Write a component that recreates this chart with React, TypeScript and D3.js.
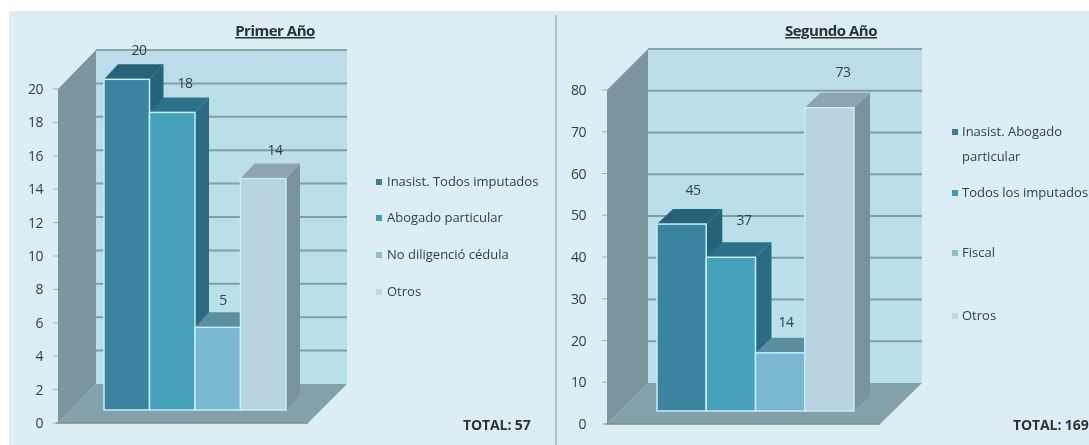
import React from "react";
import * as d3 from "d3";

const primerCategories = ["Inasist. Todos imputados", "Abogado particular", "No diligenció cédula", "Otros"];
const primerValues = [20, 18, 5, 14];
const primerTicks = [0, 2, 4, 6, 8, 10, 12, 14, 16, 18, 20];
const segundoCategories = ["Inasist. Abogado particular", "Todos los imputados", "Fiscal", "Otros"];
const segundoValues = [45, 37, 14, 73];
const segundoTicks = [0, 10, 20, 30, 40, 50, 60, 70, 80];

const faceColors = ["#3a84a0", "#45a0bc", "#79b8d0", "#b9d3e0"];
const topColors = ["#28637a", "#2c7189", "#5b8e9f", "#8ea4b2"];
const sideColors = ["#28637a", "#2c6a82", "#4f8495", "#7a929b"];
const markerColors = ["#3a7f90", "#3a9cb2", "#8fbdc6", "#c3d8de"];
const textColor = "#333f47";
const FONT = "'Open Sans', sans-serif";

type Panel = {
  id: string; title: string; titleX: number; titleY: number; cats: string[]; values: number[]; ticks: number[];
  x0: number; x1: number; floorRight: number; yTop: number; yBottom: number; dx: number; dy: number;
  barX0: number; barX1: number; barLift: number; barScale: number; barDx: number; barDy: number; tickTextX: number;
  labels: { x: number; y: number }[];
  legendMarkerX: number; legendTextX: number; legend: { lines: string[]; y: number }[];
  totalText: string; totalX: number;
};

const panels: Panel[] = [
  {
    id: "a", title: "Primer Año", titleX: 275, titleY: 36, cats: primerCategories, values: primerValues, ticks: primerTicks,
    x0: 58, x1: 347, floorRight: 308, yTop: 89, yBottom: 423, dx: 38, dy: 39,
    barX0: 104, barX1: 286, barLift: 13, barScale: 0.99, barDx: 14, barDy: 15, tickTextX: 43,
    labels: [{ x: 139, y: 55 }, { x: 185, y: 88 }, { x: 223, y: 305 }, { x: 275, y: 155 }],
    legendMarkerX: 376, legendTextX: 387,
    legend: [
      { lines: ["Inasist. Todos imputados"], y: 182 },
      { lines: ["Abogado particular"], y: 218 },
      { lines: ["No diligenció cédula"], y: 255 },
      { lines: ["Otros"], y: 292 },
    ],
    totalText: "TOTAL: 57", totalX: 463,
  },
  {
    id: "b", title: "Segundo Año", titleX: 831, titleY: 36, cats: segundoCategories, values: segundoValues, ticks: segundoTicks,
    x0: 607, x1: 922, floorRight: 880, yTop: 90, yBottom: 424, dx: 41, dy: 41,
    barX0: 657, barX1: 854, barLift: 13, barScale: 0.995, barDx: 16, barDy: 15, tickTextX: 586,
    labels: [{ x: 693, y: 195 }, { x: 744, y: 225 }, { x: 786, y: 327 }, { x: 843, y: 77 }],
    legendMarkerX: 952, legendTextX: 962,
    legend: [
      { lines: ["Inasist. Abogado", "particular"], y: 132 },
      { lines: ["Todos los imputados"], y: 193 },
      { lines: ["Fiscal"], y: 253 },
      { lines: ["Otros"], y: 316 },
    ],
    totalText: "TOTAL: 169", totalX: 1013,
  },
];

const poly = (pts: [number, number][]) => (d3.line()(pts) as string) + "Z";

function Chart({ p }: { p: Panel }) {
  const maxV = p.ticks[p.ticks.length - 1];
  const y = d3.scaleLinear().domain([0, maxV]).range([p.yBottom, p.yTop]);
  const yBar = d3.scaleLinear().domain([0, maxV]).range([
    p.yBottom - p.barLift,
    p.yBottom - p.barLift - (p.yBottom - p.yTop) * p.barScale,
  ]);
  const x = d3.scaleBand().domain(p.cats).range([p.barX0, p.barX1]).padding(0);
  const xb = p.x0 + p.dx;
  const gridTicks = p.ticks.slice(1, -1);
  const gradId = `wall-${p.id}`;
  return (
    <g>
      <defs>
        <linearGradient id={gradId} x1="0" y1="0" x2="0" y2="1">
          <stop offset="0" stopColor="#bcdde8" />
          <stop offset="1" stopColor="#b9e1e9" />
        </linearGradient>
      </defs>
      <g filter="url(#soft)">
        <rect x={xb} y={y(maxV) - p.dy} width={p.x1 - xb} height={p.yBottom - p.yTop} fill={`url(#${gradId})`} />
        <line x1={xb} x2={p.x1} y1={y(maxV) - p.dy} y2={y(maxV) - p.dy} stroke="#86a3ad" strokeWidth={2.2} />
        {gridTicks.map((t) => (
          <line key={t} x1={xb} x2={p.x1} y1={y(t) - p.dy} y2={y(t) - p.dy} stroke="#7f9eaa" strokeWidth={2} />
        ))}
        <path d={poly([[p.x0, y(maxV)], [xb, y(maxV) - p.dy], [xb, y(0) - p.dy], [p.x0, y(0)]])} fill="#7b959e" />
        <path d={poly([[p.x0, y(0)], [xb, y(0) - p.dy], [p.x1, y(0) - p.dy], [p.floorRight, y(0)]])} fill="#82a1aa" />
        <line x1={p.x0 - 2} x2={p.floorRight} y1={y(0)} y2={y(0)} stroke="#6f8e98" strokeWidth={1.5} />
        {p.ticks.map((t) => (
          <line key={t} x1={p.x0 - 5} x2={p.x0} y1={y(t)} y2={y(t)} stroke="#9ab0b8" strokeWidth={1} />
        ))}
        {p.cats.map((c, i) => {
          const v = p.values[i];
          const x0 = x(c) as number;
          const x1 = x0 + x.bandwidth();
          const yT = yBar(v);
          const yB = yBar(0);
          return (
            <g key={c}>
              <path d={poly([[x1, yT], [x1 + p.barDx, yT - p.barDy], [x1 + p.barDx, yB - p.barDy], [x1, yB]])} fill={sideColors[i]} />
              <path d={poly([[x0, yT], [x0 + p.barDx, yT - p.barDy], [x1 + p.barDx, yT - p.barDy], [x1, yT]])} fill={topColors[i]} />
              <rect x={x0} y={yT} width={x1 - x0} height={yB - yT} fill={faceColors[i]} stroke="#c4eef8" strokeWidth={1.5} />
            </g>
          );
        })}
      </g>
      <g filter="url(#softText)" fontFamily={FONT} fill={textColor}>
        <text x={p.titleX} y={p.titleY} textAnchor="middle" fontSize={15} fontWeight={700} letterSpacing={-0.5} textDecoration="underline" fill="#2b3238">
          {p.title}
        </text>
        {p.ticks.map((t) => (
          <text key={t} x={p.tickTextX} y={y(t) + 5} textAnchor="end" fontSize={14} letterSpacing={-0.5}>{t}</text>
        ))}
        {p.values.map((v, i) => (
          <text key={i} x={p.labels[i].x} y={p.labels[i].y} textAnchor="middle" fontSize={14} letterSpacing={-0.5}>{v}</text>
        ))}
        {p.legend.map((l, i) => (
          <g key={i}>
            <rect x={p.legendMarkerX} y={l.y - 3} width={6} height={6} fill={markerColors[i]} />
            {l.lines.map((s, j) => (
              <text key={j} x={p.legendTextX} y={l.y + 4 + j * 25} fontSize={13}>{s}</text>
            ))}
          </g>
        ))}
        <text x={p.totalX} y={430} fontSize={14} fontWeight={700} letterSpacing={-0.1} fill="#2b3238">{p.totalText}</text>
      </g>
    </g>
  );
}

export default function App() {
  return (
    <svg width={1089} height={445} style={{ position: "absolute", left: 0, top: 0, display: "block" }}>
      <defs>
        <filter id="soft" x="-5%" y="-5%" width="110%" height="110%"><feGaussianBlur stdDeviation="0.6" /></filter>
        <filter id="softText" x="-5%" y="-5%" width="110%" height="110%"><feGaussianBlur stdDeviation="0.45" /></filter>
      </defs>
      <rect width={1089} height={445} fill="#ffffff" />
      <rect x={9} y={11} width={1080} height={434} fill="#dcedf3" />
      <line x1={556} x2={556} y1={15} y2={445} stroke="#9db4bf" strokeWidth={1.5} />
      {panels.map((p) => <Chart key={p.id} p={p} />)}
    </svg>
  );
}
